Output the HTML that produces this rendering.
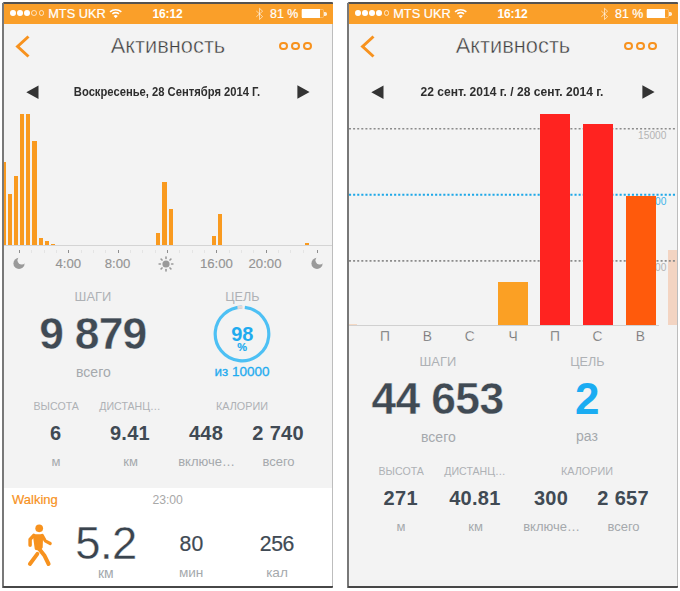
<!DOCTYPE html>
<html><head><meta charset="utf-8"><style>
html,body{margin:0;padding:0;background:#fff;width:680px;height:591px;overflow:hidden}
body{position:relative;font-family:"Liberation Sans", sans-serif}
.t{position:absolute;white-space:nowrap;line-height:1}
.r{position:absolute}
</style></head><body>
<div class="r" style="left:2.00px;top:2.30px;width:331.30px;height:586.00px;background:#F3F3F3;"></div>
<div class="r" style="left:3.90px;top:3.80px;width:328.70px;height:20.00px;background:#FA9F29;"></div>
<div class="r" style="left:2.60px;top:2.30px;width:330.00px;height:1.50px;background:#55524F;border-radius:1px 1px 0 0;"></div>
<div class="r" style="left:2.00px;top:3.00px;width:1.90px;height:585.00px;background:#787878;"></div>
<div class="r" style="left:332.30px;top:23.80px;width:1.20px;height:563.00px;background:#BDBDBD;"></div>
<div class="r" style="left:2.50px;top:586.40px;width:330.80px;height:1.60px;background:#474747;border-radius:0 0 1px 1px;"></div>
<div class="r" style="left:10.00px;top:10.40px;width:5.8px;height:5.8px;border-radius:50%;background:#fff"></div>
<div class="r" style="left:16.80px;top:10.40px;width:5.8px;height:5.8px;border-radius:50%;background:#fff"></div>
<div class="r" style="left:24.30px;top:10.40px;width:5.8px;height:5.8px;border-radius:50%;background:#fff"></div>
<div class="r" style="left:31.40px;top:10.40px;width:5.8px;height:5.8px;border-radius:50%;box-sizing:border-box;border:0.9px solid rgba(255,255,255,0.7)"></div>
<div class="r" style="left:38.50px;top:10.40px;width:5.8px;height:5.8px;border-radius:50%;box-sizing:border-box;border:0.9px solid rgba(255,255,255,0.7)"></div>
<div class="t" style="left:48.20px;top:7.76px;font-size:12.8px;color:#fff;font-weight:400;-webkit-text-stroke:0.2px #fff;">MTS UKR</div>
<svg class="r" style="left:105px;top:4px" width="22" height="20" viewBox="0 0 22 20">
<path d="M4.20,10.20" fill="none"/>
<path d="M5.06,7.81 A8.6,8.6 0 0 1 16.34,7.81" stroke="#fff" stroke-width="1.6" fill="none"/>
<path d="M7.35,9.94 A5.5,5.5 0 0 1 14.05,9.94" stroke="#fff" stroke-width="1.6" fill="none"/>
<path d="M10.7,14.3 L8.59,12.03 A3.1,3.1 0 0 1 12.81,12.03 Z" fill="#fff"/>
</svg>
<div class="t" style="left:-32.50px;width:400px;text-align:center;top:8.34px;font-size:12.0px;color:#fff;font-weight:700;letter-spacing:-0.15px;">16:12</div>
<svg class="r" style="left:254px;top:6px" width="12" height="16" viewBox="0 0 12 16">
<path d="M2.3,5 L8.6,10.6 L5.5,13.5 L5.5,2.3 L8.6,5.2 L2.3,10.8" stroke="rgba(255,255,255,0.6)" stroke-width="1" fill="none"/>
</svg>
<div class="t" style="left:270.00px;top:8.00px;font-size:12.4px;color:#fff;font-weight:400;-webkit-text-stroke:0.2px #fff;">81 %</div>
<div class="r" style="left:301.30px;top:9.00px;width:23.10px;height:9.10px;background:transparent;box-sizing:border-box;border:0.7px solid rgba(255,255,255,0.3);border-radius:1.5px;"></div>
<div class="r" style="left:301.80px;top:9.00px;width:17.90px;height:9.10px;background:#fff;"></div>
<div class="r" style="left:324.30px;top:12.20px;width:2.30px;height:3.50px;background:rgba(255,255,255,0.8);border-radius:0 1.7px 1.7px 0;"></div>
<svg class="r" style="left:10px;top:30px" width="26" height="32" viewBox="0 0 26 32">
<path d="M18.5,6.5 L7.6,16.5 L18.5,26.5" stroke="#F7921E" stroke-width="3" fill="none" stroke-linecap="butt"/>
</svg>
<div class="t" style="left:-32.00px;width:400px;text-align:center;top:34.65px;font-size:21.8px;color:#3E3E3E;font-weight:400;-webkit-text-stroke:0.45px #F3F3F3;">Активность</div>
<div class="r" style="left:278.80px;top:41.70px;width:8.8px;height:8.8px;border-radius:50%;box-sizing:border-box;border:2.1px solid #F7921E"></div>
<div class="r" style="left:291.00px;top:41.70px;width:8.8px;height:8.8px;border-radius:50%;box-sizing:border-box;border:2.1px solid #F7921E"></div>
<div class="r" style="left:303.20px;top:41.70px;width:8.8px;height:8.8px;border-radius:50%;box-sizing:border-box;border:2.1px solid #F7921E"></div>
<svg class="r" style="left:20px;top:80px" width="300" height="24" viewBox="0 0 300 24">
<path d="M6.3,12.2 L18.5,5.5 L18.5,18.9 Z" fill="#333"/>
<path d="M289.6,12.0 L277.4,5.2 L277.4,18.8 Z" fill="#333"/>
</svg>
<div class="t" style="left:-32.60px;width:400px;text-align:center;top:86.40px;font-size:12.4px;color:#2E2E2E;font-weight:700;transform:scaleX(0.905);">Воскресенье, 28 Сентября 2014 Г.</div>
<div class="r" style="left:4.00px;top:161.90px;width:1.68px;height:83.60px;background:#F99A1F;"></div>
<div class="r" style="left:7.62px;top:193.90px;width:4.25px;height:51.60px;background:#F99A1F;"></div>
<div class="r" style="left:13.81px;top:176.00px;width:4.25px;height:69.50px;background:#F99A1F;"></div>
<div class="r" style="left:20.00px;top:113.70px;width:4.25px;height:131.80px;background:#F99A1F;"></div>
<div class="r" style="left:26.19px;top:113.70px;width:4.25px;height:131.80px;background:#F99A1F;"></div>
<div class="r" style="left:32.38px;top:141.00px;width:4.25px;height:104.50px;background:#F99A1F;"></div>
<div class="r" style="left:38.57px;top:237.80px;width:4.25px;height:7.70px;background:#F99A1F;"></div>
<div class="r" style="left:44.76px;top:241.00px;width:4.25px;height:4.50px;background:#F99A1F;"></div>
<div class="r" style="left:50.95px;top:244.30px;width:4.25px;height:1.20px;background:#F99A1F;"></div>
<div class="r" style="left:156.18px;top:233.20px;width:4.25px;height:12.30px;background:#F99A1F;"></div>
<div class="r" style="left:162.37px;top:181.60px;width:4.25px;height:63.90px;background:#F99A1F;"></div>
<div class="r" style="left:168.56px;top:208.80px;width:4.25px;height:36.70px;background:#F99A1F;"></div>
<div class="r" style="left:211.89px;top:236.20px;width:4.25px;height:9.30px;background:#F99A1F;"></div>
<div class="r" style="left:218.08px;top:213.50px;width:4.25px;height:32.00px;background:#F99A1F;"></div>
<div class="r" style="left:304.74px;top:243.20px;width:4.25px;height:2.30px;background:#F99A1F;"></div>
<div class="r" style="left:4.00px;top:244.90px;width:328.30px;height:1.00px;background:#D4D4D4;"></div>
<div class="r" style="left:19.00px;top:250.00px;width:1.00px;height:2.50px;background:#8E8E8E;"></div>
<div class="r" style="left:31.33px;top:250.00px;width:1.00px;height:2.50px;background:#E4E4E4;"></div>
<div class="r" style="left:43.66px;top:250.00px;width:1.00px;height:2.50px;background:#E4E4E4;"></div>
<div class="r" style="left:55.99px;top:250.00px;width:1.00px;height:2.50px;background:#E4E4E4;"></div>
<div class="r" style="left:68.32px;top:250.00px;width:1.00px;height:2.50px;background:#8E8E8E;"></div>
<div class="r" style="left:80.65px;top:250.00px;width:1.00px;height:2.50px;background:#E4E4E4;"></div>
<div class="r" style="left:92.98px;top:250.00px;width:1.00px;height:2.50px;background:#E4E4E4;"></div>
<div class="r" style="left:105.31px;top:250.00px;width:1.00px;height:2.50px;background:#E4E4E4;"></div>
<div class="r" style="left:117.64px;top:250.00px;width:1.00px;height:2.50px;background:#8E8E8E;"></div>
<div class="r" style="left:129.97px;top:250.00px;width:1.00px;height:2.50px;background:#E4E4E4;"></div>
<div class="r" style="left:142.30px;top:250.00px;width:1.00px;height:2.50px;background:#E4E4E4;"></div>
<div class="r" style="left:154.63px;top:250.00px;width:1.00px;height:2.50px;background:#E4E4E4;"></div>
<div class="r" style="left:166.96px;top:250.00px;width:1.00px;height:2.50px;background:#8E8E8E;"></div>
<div class="r" style="left:179.29px;top:250.00px;width:1.00px;height:2.50px;background:#E4E4E4;"></div>
<div class="r" style="left:191.62px;top:250.00px;width:1.00px;height:2.50px;background:#E4E4E4;"></div>
<div class="r" style="left:203.95px;top:250.00px;width:1.00px;height:2.50px;background:#E4E4E4;"></div>
<div class="r" style="left:216.28px;top:250.00px;width:1.00px;height:2.50px;background:#8E8E8E;"></div>
<div class="r" style="left:228.61px;top:250.00px;width:1.00px;height:2.50px;background:#E4E4E4;"></div>
<div class="r" style="left:240.94px;top:250.00px;width:1.00px;height:2.50px;background:#E4E4E4;"></div>
<div class="r" style="left:253.27px;top:250.00px;width:1.00px;height:2.50px;background:#E4E4E4;"></div>
<div class="r" style="left:265.60px;top:250.00px;width:1.00px;height:2.50px;background:#8E8E8E;"></div>
<div class="r" style="left:277.93px;top:250.00px;width:1.00px;height:2.50px;background:#E4E4E4;"></div>
<div class="r" style="left:290.26px;top:250.00px;width:1.00px;height:2.50px;background:#E4E4E4;"></div>
<div class="r" style="left:302.59px;top:250.00px;width:1.00px;height:2.50px;background:#E4E4E4;"></div>
<div class="r" style="left:316.70px;top:250.00px;width:1.00px;height:2.50px;background:#8E8E8E;"></div>
<div class="t" style="left:-131.70px;width:400px;text-align:center;top:256.83px;font-size:13.2px;color:#939393;font-weight:400;-webkit-text-stroke:0.15px #939393;">4:00</div>
<div class="t" style="left:-82.50px;width:400px;text-align:center;top:256.83px;font-size:13.2px;color:#939393;font-weight:400;-webkit-text-stroke:0.15px #939393;">8:00</div>
<div class="t" style="left:16.40px;width:400px;text-align:center;top:256.83px;font-size:13.2px;color:#939393;font-weight:400;-webkit-text-stroke:0.15px #939393;">16:00</div>
<div class="t" style="left:65.00px;width:400px;text-align:center;top:256.83px;font-size:13.2px;color:#939393;font-weight:400;-webkit-text-stroke:0.15px #939393;">20:00</div>
<svg class="r" style="left:10.600000000000001px;top:255px" width="16" height="16" viewBox="0 0 16 16">
<defs><mask id="mm0_0"><rect width="16" height="16" fill="#fff"/><circle cx="10.8" cy="5.3" r="4.3" fill="#000"/></mask></defs>
<circle cx="8" cy="8.4" r="5.6" fill="#9A9A9A" mask="url(#mm0_0)"/>
</svg>
<svg class="r" style="left:308.9px;top:255px" width="16" height="16" viewBox="0 0 16 16">
<defs><mask id="mm0_1"><rect width="16" height="16" fill="#fff"/><circle cx="10.8" cy="5.3" r="4.3" fill="#000"/></mask></defs>
<circle cx="8" cy="8.4" r="5.6" fill="#9A9A9A" mask="url(#mm0_1)"/>
</svg>
<svg class="r" style="left:158.4px;top:255.8px" width="16" height="16" viewBox="0 0 16 16">
<circle cx="8" cy="8" r="3.6" fill="#9A9A9A"/><path d="M13.60,8.00 L14.90,8.00" stroke="#9A9A9A" stroke-width="1.6" stroke-linecap="round"/><path d="M11.96,11.96 L12.88,12.88" stroke="#9A9A9A" stroke-width="1.6" stroke-linecap="round"/><path d="M8.00,13.60 L8.00,14.90" stroke="#9A9A9A" stroke-width="1.6" stroke-linecap="round"/><path d="M4.04,11.96 L3.12,12.88" stroke="#9A9A9A" stroke-width="1.6" stroke-linecap="round"/><path d="M2.40,8.00 L1.10,8.00" stroke="#9A9A9A" stroke-width="1.6" stroke-linecap="round"/><path d="M4.04,4.04 L3.12,3.12" stroke="#9A9A9A" stroke-width="1.6" stroke-linecap="round"/><path d="M8.00,2.40 L8.00,1.10" stroke="#9A9A9A" stroke-width="1.6" stroke-linecap="round"/><path d="M11.96,4.04 L12.88,3.12" stroke="#9A9A9A" stroke-width="1.6" stroke-linecap="round"/>
</svg>
<div class="t" style="left:-107.10px;width:400px;text-align:center;top:291.08px;font-size:12.9px;color:#AEB1B5;font-weight:400;">ШАГИ</div>
<div class="t" style="left:42.30px;width:400px;text-align:center;top:290.63px;font-size:12.6px;color:#AEB1B5;font-weight:400;">ЦЕЛЬ</div>
<div class="t" style="left:-107.10px;width:400px;text-align:center;top:312.22px;font-size:44.4px;color:#404A54;font-weight:700;letter-spacing:-0.8px;-webkit-text-stroke:0.4px #F3F3F3;">9 879</div>
<div class="t" style="left:-106.60px;width:400px;text-align:center;top:364.95px;font-size:14px;color:#A5A9AD;font-weight:400;">всего</div>
<svg class="r" style="left:212.4px;top:303.9px" width="60" height="60" viewBox="0 0 60 60">
<circle cx="30" cy="30" r="26.8" stroke="#4DC0F4" stroke-width="3.2" fill="none" stroke-dasharray="164.18 200" transform="rotate(-84 30 30)"/>
<path d="M25.5,3.5 L30.6,3.1999999999999993" stroke="#E6D8D6" stroke-width="3.2"/>
</svg>
<div class="t" style="left:42.30px;width:400px;text-align:center;top:323.57px;font-size:20px;color:#1FABEF;font-weight:700;">98</div>
<div class="t" style="left:42.10px;width:400px;text-align:center;top:342.39px;font-size:11px;color:#1FABEF;font-weight:700;-webkit-text-stroke:0.2px #1FABEF;">%</div>
<div class="t" style="left:42.00px;width:400px;text-align:center;top:365.07px;font-size:13.5px;color:#1FABEF;font-weight:400;-webkit-text-stroke:0.3px #1FABEF;">из 10000</div>
<div class="t" style="left:-143.80px;width:400px;text-align:center;top:401.03px;font-size:10.6px;color:#AEB1B5;font-weight:400;">ВЫСОТА</div>
<div class="t" style="left:-70.00px;width:400px;text-align:center;top:401.03px;font-size:10.6px;color:#AEB1B5;font-weight:400;">ДИСТАНЦ…</div>
<div class="t" style="left:42.00px;width:400px;text-align:center;top:400.86px;font-size:10.8px;color:#AEB1B5;font-weight:400;">КАЛОРИИ</div>
<div class="t" style="left:-144.25px;width:400px;text-align:center;top:422.57px;font-size:20px;color:#404A54;font-weight:700;letter-spacing:0.3px;">6</div>
<div class="t" style="left:-70.05px;width:400px;text-align:center;top:422.57px;font-size:20px;color:#404A54;font-weight:700;letter-spacing:0.3px;">9.41</div>
<div class="t" style="left:6.05px;width:400px;text-align:center;top:422.57px;font-size:20px;color:#404A54;font-weight:700;letter-spacing:0.3px;">448</div>
<div class="t" style="left:78.15px;width:400px;text-align:center;top:422.57px;font-size:20px;color:#404A54;font-weight:700;letter-spacing:0.3px;">2 740</div>
<div class="t" style="left:-144.10px;width:400px;text-align:center;top:455.20px;font-size:13px;color:#A5A9AD;font-weight:400;">м</div>
<div class="t" style="left:-69.40px;width:400px;text-align:center;top:455.20px;font-size:13px;color:#A5A9AD;font-weight:400;">км</div>
<div class="t" style="left:6.60px;width:400px;text-align:center;top:455.20px;font-size:13px;color:#A5A9AD;font-weight:400;">включе…</div>
<div class="t" style="left:78.50px;width:400px;text-align:center;top:455.20px;font-size:13px;color:#A5A9AD;font-weight:400;">всего</div>
<div class="r" style="left:4.00px;top:488.20px;width:328.20px;height:98.20px;background:#FFFFFF;"></div>
<div class="t" style="left:12.00px;top:493.30px;font-size:13px;color:#F7921E;font-weight:400;-webkit-text-stroke:0.2px #F7921E;">Walking</div>
<div class="t" style="left:152.40px;top:493.97px;font-size:12.2px;color:#A8A8A8;font-weight:400;">23:00</div>
<svg class="r" style="left:20px;top:518px" width="40" height="52" viewBox="20 518 40 52">
<g fill="none" stroke="#F7921E" stroke-linecap="round" stroke-linejoin="round">
<circle cx="39.2" cy="528.3" r="3.85" fill="#F7921E" stroke="none"/>
<path d="M34.2,535.6 L41.8,535.6 L41.4,547.2 L39.8,549.2 L36.0,548.6 Z" fill="#F7921E" stroke-width="2.6"/>
<path d="M33.8,535.4 L30.1,539.4 L30.1,545.3" stroke-width="3.5"/>
<path d="M42.2,535.4 L45.2,540.8 L50.2,543.5" stroke-width="3.2"/>
<path d="M38.6,548.2 L44.6,555.8 L48.6,564.0" stroke-width="4.0"/>
<path d="M37.4,553.8 L29.9,564.0" stroke-width="3.9"/>
</g></svg>
<div class="t" style="left:-94.00px;width:400px;text-align:center;top:520.67px;font-size:45.4px;color:#3A444E;font-weight:400;letter-spacing:-0.45px;-webkit-text-stroke:0.35px #fff;">5.2</div>
<div class="t" style="left:-94.20px;width:400px;text-align:center;top:566.15px;font-size:14.0px;color:#A5A9AD;font-weight:400;">км</div>
<div class="t" style="left:-8.60px;width:400px;text-align:center;top:532.95px;font-size:21.2px;color:#404A54;font-weight:400;-webkit-text-stroke:0.2px #404A54;">80</div>
<div class="t" style="left:76.80px;width:400px;text-align:center;top:532.95px;font-size:21.2px;color:#404A54;font-weight:400;letter-spacing:-0.5px;-webkit-text-stroke:0.2px #404A54;">256</div>
<div class="t" style="left:-8.90px;width:400px;text-align:center;top:566.19px;font-size:13.6px;color:#A5A9AD;font-weight:400;">мин</div>
<div class="t" style="left:77.00px;width:400px;text-align:center;top:566.19px;font-size:13.6px;color:#A5A9AD;font-weight:400;">кал</div>
<div class="r" style="left:347.00px;top:2.30px;width:331.30px;height:586.00px;background:#F3F3F3;"></div>
<div class="r" style="left:348.90px;top:3.80px;width:328.70px;height:20.00px;background:#FA9F29;"></div>
<div class="r" style="left:347.60px;top:2.30px;width:330.00px;height:1.50px;background:#55524F;border-radius:1px 1px 0 0;"></div>
<div class="r" style="left:347.00px;top:3.00px;width:1.90px;height:585.00px;background:#787878;"></div>
<div class="r" style="left:677.30px;top:23.80px;width:1.20px;height:563.00px;background:#BDBDBD;"></div>
<div class="r" style="left:347.50px;top:586.40px;width:330.80px;height:1.60px;background:#474747;border-radius:0 0 1px 1px;"></div>
<div class="r" style="left:355.00px;top:10.40px;width:5.8px;height:5.8px;border-radius:50%;background:#fff"></div>
<div class="r" style="left:361.80px;top:10.40px;width:5.8px;height:5.8px;border-radius:50%;background:#fff"></div>
<div class="r" style="left:369.30px;top:10.40px;width:5.8px;height:5.8px;border-radius:50%;background:#fff"></div>
<div class="r" style="left:376.40px;top:10.40px;width:5.8px;height:5.8px;border-radius:50%;background:#fff"></div>
<div class="r" style="left:383.50px;top:10.40px;width:5.8px;height:5.8px;border-radius:50%;box-sizing:border-box;border:0.9px solid rgba(255,255,255,0.7)"></div>
<div class="t" style="left:393.20px;top:7.76px;font-size:12.8px;color:#fff;font-weight:400;-webkit-text-stroke:0.2px #fff;">MTS UKR</div>
<svg class="r" style="left:450px;top:4px" width="22" height="20" viewBox="0 0 22 20">
<path d="M4.20,10.20" fill="none"/>
<path d="M5.06,7.81 A8.6,8.6 0 0 1 16.34,7.81" stroke="#fff" stroke-width="1.6" fill="none"/>
<path d="M7.35,9.94 A5.5,5.5 0 0 1 14.05,9.94" stroke="#fff" stroke-width="1.6" fill="none"/>
<path d="M10.7,14.3 L8.59,12.03 A3.1,3.1 0 0 1 12.81,12.03 Z" fill="#fff"/>
</svg>
<div class="t" style="left:312.50px;width:400px;text-align:center;top:8.34px;font-size:12.0px;color:#fff;font-weight:700;letter-spacing:-0.15px;">16:12</div>
<svg class="r" style="left:599px;top:6px" width="12" height="16" viewBox="0 0 12 16">
<path d="M2.3,5 L8.6,10.6 L5.5,13.5 L5.5,2.3 L8.6,5.2 L2.3,10.8" stroke="rgba(255,255,255,0.6)" stroke-width="1" fill="none"/>
</svg>
<div class="t" style="left:615.00px;top:8.00px;font-size:12.4px;color:#fff;font-weight:400;-webkit-text-stroke:0.2px #fff;">81 %</div>
<div class="r" style="left:646.30px;top:9.00px;width:23.10px;height:9.10px;background:transparent;box-sizing:border-box;border:0.7px solid rgba(255,255,255,0.3);border-radius:1.5px;"></div>
<div class="r" style="left:646.80px;top:9.00px;width:17.90px;height:9.10px;background:#fff;"></div>
<div class="r" style="left:669.30px;top:12.20px;width:2.30px;height:3.50px;background:rgba(255,255,255,0.8);border-radius:0 1.7px 1.7px 0;"></div>
<svg class="r" style="left:355px;top:30px" width="26" height="32" viewBox="0 0 26 32">
<path d="M18.5,6.5 L7.6,16.5 L18.5,26.5" stroke="#F7921E" stroke-width="3" fill="none" stroke-linecap="butt"/>
</svg>
<div class="t" style="left:313.00px;width:400px;text-align:center;top:34.65px;font-size:21.8px;color:#3E3E3E;font-weight:400;-webkit-text-stroke:0.45px #F3F3F3;">Активность</div>
<div class="r" style="left:623.80px;top:41.70px;width:8.8px;height:8.8px;border-radius:50%;box-sizing:border-box;border:2.1px solid #F7921E"></div>
<div class="r" style="left:636.00px;top:41.70px;width:8.8px;height:8.8px;border-radius:50%;box-sizing:border-box;border:2.1px solid #F7921E"></div>
<div class="r" style="left:648.20px;top:41.70px;width:8.8px;height:8.8px;border-radius:50%;box-sizing:border-box;border:2.1px solid #F7921E"></div>
<svg class="r" style="left:365px;top:80px" width="300" height="24" viewBox="0 0 300 24">
<path d="M6.3,12.2 L18.5,5.5 L18.5,18.9 Z" fill="#333"/>
<path d="M289.6,12.0 L277.4,5.2 L277.4,18.8 Z" fill="#333"/>
</svg>
<div class="t" style="left:312.40px;width:400px;text-align:center;top:86.40px;font-size:12.4px;color:#2E2E2E;font-weight:700;transform:scaleX(0.974);">22 сент. 2014 г. / 28 сент. 2014 г.</div>
<div class="r" style="left:668.20px;top:250.00px;width:9.00px;height:75.00px;background:#F3D4C2;"></div>
<svg class="r" style="left:345px;top:120px" width="335" height="160" viewBox="345 120 335 160"><path d="M349,128.7 L676,128.7" stroke="#8C8C8C" stroke-width="1.6" stroke-dasharray="2 2.1"/><path d="M349,260.9 L676,260.9" stroke="#8C8C8C" stroke-width="1.6" stroke-dasharray="2 2.1"/></svg>
<div class="t" style="left:266.40px;width:400px;text-align:right;top:130.97px;font-size:10.2px;color:#B4B4B4;font-weight:400;">15000</div>
<div class="t" style="left:266.40px;width:400px;text-align:right;top:197.17px;font-size:10.2px;color:#3DB4EA;font-weight:400;">10000</div>
<div class="t" style="left:266.40px;width:400px;text-align:right;top:263.37px;font-size:10.2px;color:#B4B4B4;font-weight:400;">5000</div>
<svg class="r" style="left:345px;top:190px" width="335" height="10" viewBox="345 190 335 10"><path d="M349,194.7 L676,194.7" stroke="#1EA8E8" stroke-width="2.1" stroke-dasharray="2.1 2.0"/></svg>
<div class="r" style="left:349.00px;top:323.50px;width:8.00px;height:1.50px;background:#F5D9C4;"></div>
<div class="r" style="left:497.60px;top:281.50px;width:30.00px;height:43.50px;background:#FBA024;"></div>
<div class="r" style="left:540.20px;top:114.10px;width:30.00px;height:210.90px;background:#FF2320;"></div>
<div class="r" style="left:583.00px;top:124.00px;width:30.00px;height:201.00px;background:#FF2320;"></div>
<div class="r" style="left:625.60px;top:196.00px;width:30.00px;height:129.00px;background:#FF5A0C;"></div>
<div class="r" style="left:349.00px;top:325.00px;width:310.00px;height:1.00px;background:#D0D0D0;"></div>
<div class="t" style="left:184.90px;width:400px;text-align:center;top:329.72px;font-size:13.8px;color:#5C5C5C;font-weight:400;-webkit-text-stroke:0.3px #F3F3F3;">П</div>
<div class="t" style="left:227.40px;width:400px;text-align:center;top:329.72px;font-size:13.8px;color:#5C5C5C;font-weight:400;-webkit-text-stroke:0.3px #F3F3F3;">В</div>
<div class="t" style="left:269.80px;width:400px;text-align:center;top:329.72px;font-size:13.8px;color:#5C5C5C;font-weight:400;-webkit-text-stroke:0.3px #F3F3F3;">С</div>
<div class="t" style="left:313.20px;width:400px;text-align:center;top:329.72px;font-size:13.8px;color:#5C5C5C;font-weight:400;-webkit-text-stroke:0.3px #F3F3F3;">Ч</div>
<div class="t" style="left:355.00px;width:400px;text-align:center;top:329.72px;font-size:13.8px;color:#5C5C5C;font-weight:400;-webkit-text-stroke:0.3px #F3F3F3;">П</div>
<div class="t" style="left:397.60px;width:400px;text-align:center;top:329.72px;font-size:13.8px;color:#5C5C5C;font-weight:400;-webkit-text-stroke:0.3px #F3F3F3;">С</div>
<div class="t" style="left:440.30px;width:400px;text-align:center;top:329.72px;font-size:13.8px;color:#5C5C5C;font-weight:400;-webkit-text-stroke:0.3px #F3F3F3;">В</div>
<div class="t" style="left:237.90px;width:400px;text-align:center;top:356.08px;font-size:12.9px;color:#AEB1B5;font-weight:400;">ШАГИ</div>
<div class="t" style="left:387.30px;width:400px;text-align:center;top:355.63px;font-size:12.6px;color:#AEB1B5;font-weight:400;">ЦЕЛЬ</div>
<div class="t" style="left:237.50px;width:400px;text-align:center;top:377.22px;font-size:44.4px;color:#404A54;font-weight:700;letter-spacing:-0.65px;-webkit-text-stroke:0.4px #F3F3F3;">44 653</div>
<div class="t" style="left:238.40px;width:400px;text-align:center;top:429.95px;font-size:14px;color:#A5A9AD;font-weight:400;">всего</div>
<div class="t" style="left:387.20px;width:400px;text-align:center;top:376.95px;font-size:44px;color:#1AACF2;font-weight:700;">2</div>
<div class="t" style="left:386.90px;width:400px;text-align:center;top:429.45px;font-size:14px;color:#A5A9AD;font-weight:400;">раз</div>
<div class="t" style="left:201.20px;width:400px;text-align:center;top:466.03px;font-size:10.6px;color:#AEB1B5;font-weight:400;">ВЫСОТА</div>
<div class="t" style="left:275.00px;width:400px;text-align:center;top:466.03px;font-size:10.6px;color:#AEB1B5;font-weight:400;">ДИСТАНЦ…</div>
<div class="t" style="left:387.00px;width:400px;text-align:center;top:465.86px;font-size:10.8px;color:#AEB1B5;font-weight:400;">КАЛОРИИ</div>
<div class="t" style="left:200.75px;width:400px;text-align:center;top:487.57px;font-size:20px;color:#404A54;font-weight:700;letter-spacing:0.3px;">271</div>
<div class="t" style="left:274.95px;width:400px;text-align:center;top:487.57px;font-size:20px;color:#404A54;font-weight:700;letter-spacing:0.3px;">40.81</div>
<div class="t" style="left:351.05px;width:400px;text-align:center;top:487.57px;font-size:20px;color:#404A54;font-weight:700;letter-spacing:0.3px;">300</div>
<div class="t" style="left:423.15px;width:400px;text-align:center;top:487.57px;font-size:20px;color:#404A54;font-weight:700;letter-spacing:0.3px;">2 657</div>
<div class="t" style="left:200.90px;width:400px;text-align:center;top:520.20px;font-size:13px;color:#A5A9AD;font-weight:400;">м</div>
<div class="t" style="left:275.60px;width:400px;text-align:center;top:520.20px;font-size:13px;color:#A5A9AD;font-weight:400;">км</div>
<div class="t" style="left:351.60px;width:400px;text-align:center;top:520.20px;font-size:13px;color:#A5A9AD;font-weight:400;">включе…</div>
<div class="t" style="left:423.50px;width:400px;text-align:center;top:520.20px;font-size:13px;color:#A5A9AD;font-weight:400;">всего</div>
</body></html>
